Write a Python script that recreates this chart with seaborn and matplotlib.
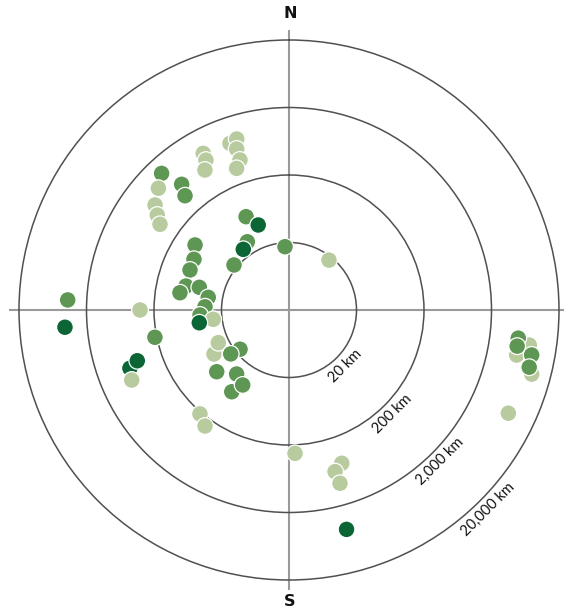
import numpy as np
import pandas as pd
import matplotlib
matplotlib.use("Agg")
import matplotlib.pyplot as plt
import seaborn as sns

# bearing (degrees clockwise from north), distance (km), group
bearing_deg = [340.5, 343.0, 342.0, 341.9, 339.7, 331.3, 331.0, 329.0, 317.0, 313.0,
               308.1, 305.8, 303.6, 319.5, 317.7,
               335.3, 340.1, 328.6, 323.0, 309.3, 356.4, 38.7,
               304.7, 298.1, 292.0, 283.1, 279.0, 284.2, 278.9, 272.2, 266.8, 263.0, 261.9,
               239.6, 245.2, 231.3, 233.0, 229.5, 219.3, 215.0, 211.7, 220.6, 215.9,
               270.0, 258.5, 272.6, 265.6, 249.9, 251.5, 246.0,
               177.6, 161.0, 164.1, 163.6, 165.3,
               115.2, 98.3, 101.2, 104.8, 97.0, 99.0, 100.5, 103.4]
distance_km = [832, 891, 644, 436, 345, 885, 692, 525, 1170, 885,
               665, 509, 394, 562, 389,
               66.5, 43.7, 30.6, 26.7, 22.6, 17.4, 17.7,
               98.6, 78.9, 76.4, 73.8, 86.5, 46.9, 32.5, 35.2, 41.8, 27.0, 44.0,
               38.9, 28.5, 17.0, 24.1, 51.2, 33.6, 60.2, 40.4, 213, 265,
               322, 213, 3828, 4266, 647, 469, 711,
               267, 504, 618, 948, 4580,
               7800, 7910, 5490, 10470, 5285, 5290, 9060, 9100]
group = ["light"] * 8 + ["medium"] + ["light"] * 4 + ["medium"] * 2 + \
        ["medium", "dark", "medium", "dark", "medium", "medium", "light"] + \
        ["medium"] * 9 + ["light", "dark"] + \
        ["light", "light"] + ["medium"] * 6 + ["light", "light"] + \
        ["light", "medium", "medium", "dark", "dark", "dark", "light"] + \
        ["light"] * 4 + ["dark"] + \
        ["light"] * 4 + ["medium"] * 4

ring_values = [20, 200, 2000, 20000]
ring_labels = ["20 km", "200 km", "2,000 km", "20,000 km"]

palette = {"light": "#b7cb9f", "medium": "#5e9653", "dark": "#0b6535"}

df = pd.DataFrame({"theta": np.deg2rad(bearing_deg), "dist": distance_km, "group": group})

sns.set_style("white")
plt.rcParams["font.family"] = ["Lato", "DejaVu Sans"]

W, H = 564, 611
cx, cy, R = 289, 310, 280
fig = plt.figure(figsize=(W / 100, H / 100), dpi=100)
ax = fig.add_axes([(cx - R) / W, (H - cy - R) / H, 2 * R / W, 2 * R / H], projection="polar")
ax.set_theta_zero_location("N")
ax.set_theta_direction(-1)
ax.set_rscale("log")
rmax = 2 * 10 ** (R / 67.5)

sns.scatterplot(data=df, x="theta", y="dist", hue="group", palette=palette,
                s=145, edgecolor="white", linewidth=0.9, legend=False, ax=ax, zorder=3)

ax.set_rlim(2, rmax)
ax.set_thetalim(0, 2 * np.pi)
ax.set_rgrids(ring_values, labels=[""] * 4)
ax.set_thetagrids([0, 90, 180, 270], labels=[""] * 4)
ax.yaxis.grid(True, color="#505050", linewidth=1.1)
ax.xaxis.grid(True, color="#9a9a9a", linewidth=1.5)
ax.set_axisbelow(True)
ax.spines["polar"].set_visible(False)
ax.set_xlabel("")
ax.set_ylabel("")
ax.tick_params(axis="both", length=0)

for v, lab in zip(ring_values, ring_labels):
    ax.annotate(lab, xy=(np.deg2rad(135), v), xytext=(6.0, -6.0), textcoords="offset points",
                rotation=45, ha="center", va="center", fontsize=10.5, color="#111111",
                rotation_mode="anchor")

ax.text(0.5 + 1 / 560, 1 + 16 / 560, "N", transform=ax.transAxes, ha="center", va="center",
        fontsize=11.5, fontweight="bold", color="#111111", family="DejaVu Sans")
ax.text(0.5 + 1 / 560, -11.7 / 560, "S", transform=ax.transAxes, ha="center", va="center",
        fontsize=11.5, fontweight="bold", color="#111111", family="DejaVu Sans")

fig.savefig("out.png", dpi=100, facecolor="white")
